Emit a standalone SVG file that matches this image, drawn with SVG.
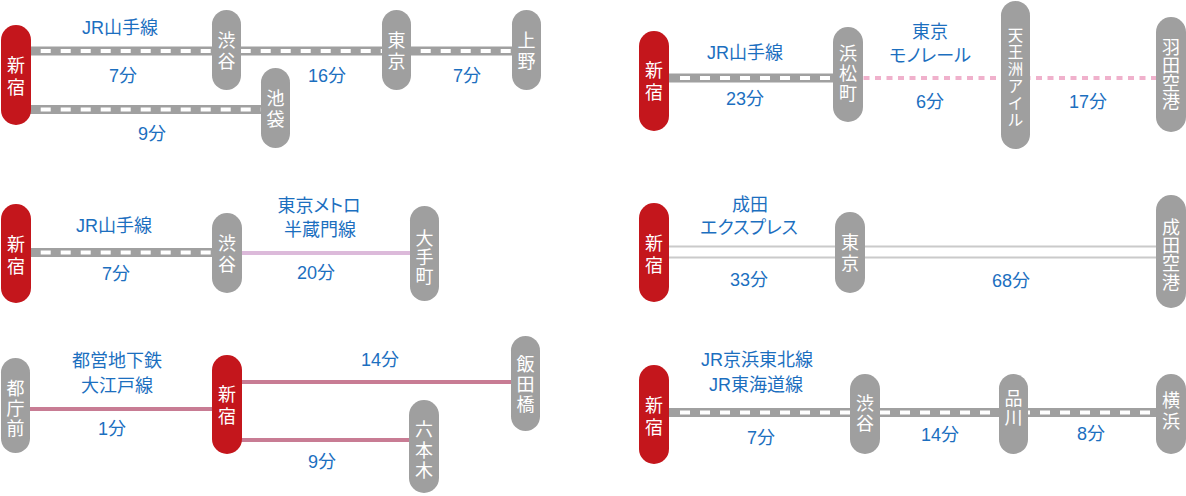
<svg xmlns="http://www.w3.org/2000/svg" width="1186" height="496" viewBox="0 0 1186 496">
<style>
.red{fill:#c4161c}
.gry{fill:#9f9f9f}
.st{font-family:"Liberation Sans","Noto Sans CJK JP",sans-serif;font-size:18px;fill:#ffffff;text-anchor:middle}
.st6{font-family:"Liberation Sans","Noto Sans CJK JP",sans-serif;font-size:15.5px;fill:#ffffff;text-anchor:middle}
.lb{font-family:"Liberation Sans","Noto Sans CJK JP",sans-serif;font-size:18px;fill:#1c6fbf;text-anchor:middle}
.kt{font-feature-settings:"palt"}
.track{stroke:#a0a0a0;stroke-width:9;fill:none}
.tdash{stroke:#ffffff;stroke-width:4;stroke-dasharray:10 10;fill:none}
.mono{stroke:#f0b1cc;stroke-width:4;stroke-dasharray:6 5.5;fill:none}
.hanzo{stroke:#dcbada;stroke-width:4;fill:none}
.oedo{stroke:#c87c94;stroke-width:4;fill:none}
.nex{stroke:#cacaca;stroke-width:2;fill:none}
</style>
<rect width="1186" height="496" fill="#ffffff"/>
<g id="connectors">
  <line class="track" x1="16" y1="51" x2="526" y2="51"/>
  <line class="tdash" x1="40.7" y1="51" x2="512" y2="51"/>
  <line class="track" x1="16" y1="109.5" x2="275" y2="109.5"/>
  <line class="tdash" x1="40.7" y1="109.5" x2="261" y2="109.5"/>
  <line class="track" x1="654" y1="78" x2="848" y2="78"/>
  <line class="tdash" x1="680" y1="78" x2="833" y2="78"/>
  <line class="mono" x1="863.5" y1="78" x2="1156" y2="78"/>
  <line class="track" x1="16" y1="252.5" x2="227" y2="252.5"/>
  <line class="tdash" x1="40.7" y1="252.5" x2="212" y2="252.5"/>
  <line class="hanzo" x1="242" y1="253" x2="410" y2="253"/>
  <line class="nex" x1="669" y1="246.5" x2="1156" y2="246.5"/>
  <line class="nex" x1="669" y1="257.5" x2="1156" y2="257.5"/>
  <line class="oedo" x1="30" y1="409" x2="212" y2="409"/>
  <line class="oedo" x1="241" y1="382" x2="512" y2="382"/>
  <line class="oedo" x1="241" y1="440" x2="410" y2="440"/>
  <line class="track" x1="654" y1="412.5" x2="1186" y2="412.5"/>
  <line class="tdash" x1="680" y1="412.5" x2="1156" y2="412.5"/>
</g>
<g id="labels">
  <text class="lb" x="120" y="34">JR山手線</text>
  <text class="lb" x="123" y="82">7分</text>
  <text class="lb" x="327" y="82">16分</text>
  <text class="lb" x="467" y="82">7分</text>
  <text class="lb" x="152" y="140">9分</text>

  <text class="lb" x="745" y="59">JR山手線</text>
  <text class="lb" x="745" y="105">23分</text>
  <text class="lb" x="930" y="38">東京</text>
  <text class="lb kt" x="930" y="62">モノレール</text>
  <text class="lb" x="930" y="108">6分</text>
  <text class="lb" x="1088" y="108">17分</text>

  <text class="lb" x="114" y="232">JR山手線</text>
  <text class="lb" x="116" y="280">7分</text>
  <text class="lb kt" x="319" y="212">東京メトロ</text>
  <text class="lb" x="320" y="236">半蔵門線</text>
  <text class="lb" x="316" y="279">20分</text>

  <text class="lb" x="750" y="211">成田</text>
  <text class="lb kt" x="749" y="234">エクスプレス</text>
  <text class="lb" x="749" y="286">33分</text>
  <text class="lb" x="1011" y="287">68分</text>

  <text class="lb" x="117" y="367">都営地下鉄</text>
  <text class="lb" x="117" y="392">大江戸線</text>
  <text class="lb" x="112" y="435">1分</text>
  <text class="lb" x="380" y="366">14分</text>
  <text class="lb" x="322" y="468">9分</text>

  <text class="lb" x="757" y="366">JR京浜東北線</text>
  <text class="lb" x="756" y="391">JR東海道線</text>
  <text class="lb" x="761" y="444">7分</text>
  <text class="lb" x="940" y="441">14分</text>
  <text class="lb" x="1091" y="440">8分</text>
</g>

<g id="a-shinjuku"><rect class="red" x="1" y="25" width="30" height="100" rx="15"/><text class="st" x="16"><tspan x="16" y="72">新</tspan><tspan x="16" y="94">宿</tspan></text></g>
<g id="a-shibuya"><rect class="gry" x="212" y="10" width="29" height="80" rx="14.5"/><text class="st" x="226.5"><tspan x="226.5" y="47">渋</tspan><tspan x="226.5" y="68">谷</tspan></text></g>
<g id="a-tokyo"><rect class="gry" x="382" y="10" width="29" height="80" rx="14.5"/><text class="st" x="396.5"><tspan x="396.5" y="47">東</tspan><tspan x="396.5" y="68">京</tspan></text></g>
<g id="a-ueno"><rect class="gry" x="512" y="10" width="29" height="80" rx="14.5"/><text class="st" x="526.5"><tspan x="526.5" y="47">上</tspan><tspan x="526.5" y="68">野</tspan></text></g>
<g id="a-ikebukuro"><rect class="gry" x="261" y="68" width="29" height="80" rx="14.5"/><text class="st" x="275.5"><tspan x="275.5" y="104.5">池</tspan><tspan x="275.5" y="125.5">袋</tspan></text></g>

<g id="b-shinjuku"><rect class="red" x="639" y="31" width="30" height="100" rx="15"/><text class="st" x="654"><tspan x="654" y="77">新</tspan><tspan x="654" y="99">宿</tspan></text></g>
<g id="b-hamamatsucho"><rect class="gry" x="833" y="27" width="30" height="95" rx="15"/><text class="st" x="848"><tspan x="848" y="60">浜</tspan><tspan x="848" y="80">松</tspan><tspan x="848" y="100">町</tspan></text></g>
<g id="b-tennozu"><rect class="gry" x="1001" y="1" width="29" height="148" rx="14.5"/><text class="st6" x="1015.5"><tspan x="1015.5" y="41">天</tspan><tspan x="1015.5" y="58">王</tspan><tspan x="1015.5" y="75">洲</tspan><tspan x="1015.5" y="92">ア</tspan><tspan x="1015.5" y="109">イ</tspan><tspan x="1015.5" y="126">ル</tspan></text></g>
<g id="b-haneda"><rect class="gry" x="1156" y="17" width="30" height="115" rx="15"/><text class="st" x="1171"><tspan x="1171" y="54">羽</tspan><tspan x="1171" y="72">田</tspan><tspan x="1171" y="90">空</tspan><tspan x="1171" y="108">港</tspan></text></g>

<g id="c-shinjuku"><rect class="red" x="1" y="204" width="30" height="99" rx="15"/><text class="st" x="16"><tspan x="16" y="251">新</tspan><tspan x="16" y="273">宿</tspan></text></g>
<g id="c-shibuya"><rect class="gry" x="212" y="213" width="30" height="80" rx="15"/><text class="st" x="227"><tspan x="227" y="249.5">渋</tspan><tspan x="227" y="270.5">谷</tspan></text></g>
<g id="c-otemachi"><rect class="gry" x="410" y="206" width="29" height="95" rx="14.5"/><text class="st" x="424.5"><tspan x="424.5" y="245">大</tspan><tspan x="424.5" y="264">手</tspan><tspan x="424.5" y="283">町</tspan></text></g>

<g id="d-shinjuku"><rect class="red" x="639" y="203" width="30" height="99" rx="15"/><text class="st" x="654"><tspan x="654" y="250">新</tspan><tspan x="654" y="272">宿</tspan></text></g>
<g id="d-tokyo"><rect class="gry" x="835" y="212" width="30" height="81" rx="15"/><text class="st" x="850"><tspan x="850" y="249">東</tspan><tspan x="850" y="270">京</tspan></text></g>
<g id="d-narita"><rect class="gry" x="1156" y="195" width="30" height="113" rx="15"/><text class="st" x="1171"><tspan x="1171" y="234">成</tspan><tspan x="1171" y="252">田</tspan><tspan x="1171" y="270">空</tspan><tspan x="1171" y="289">港</tspan></text></g>

<g id="e-tochomae"><rect class="gry" x="1" y="358" width="29" height="95" rx="14.5"/><text class="st" x="15.5"><tspan x="15.5" y="395">都</tspan><tspan x="15.5" y="415">庁</tspan><tspan x="15.5" y="435">前</tspan></text></g>
<g id="e-shinjuku"><rect class="red" x="212" y="355" width="30" height="99" rx="15"/><text class="st" x="227"><tspan x="227" y="400.5">新</tspan><tspan x="227" y="422.5">宿</tspan></text></g>
<g id="e-iidabashi"><rect class="gry" x="511" y="336" width="29" height="95" rx="14.5"/><text class="st" x="525.5"><tspan x="525.5" y="371">飯</tspan><tspan x="525.5" y="391">田</tspan><tspan x="525.5" y="411">橋</tspan></text></g>
<g id="e-roppongi"><rect class="gry" x="409" y="400" width="30" height="93" rx="15"/><text class="st" x="424"><tspan x="424" y="436">六</tspan><tspan x="424" y="456.5">本</tspan><tspan x="424" y="477">木</tspan></text></g>

<g id="f-shinjuku"><rect class="red" x="639" y="365" width="30" height="99" rx="15"/><text class="st" x="654"><tspan x="654" y="412">新</tspan><tspan x="654" y="434">宿</tspan></text></g>
<g id="f-shibuya"><rect class="gry" x="850" y="374" width="30" height="80" rx="15"/><text class="st" x="865"><tspan x="865" y="410">渋</tspan><tspan x="865" y="430">谷</tspan></text></g>
<g id="f-shinagawa"><rect class="gry" x="999" y="374" width="29" height="80" rx="14.5"/><text class="st" x="1013.5"><tspan x="1013.5" y="404.5">品</tspan><tspan x="1013.5" y="423.5">川</tspan></text></g>
<g id="f-yokohama"><rect class="gry" x="1156" y="374" width="30" height="80" rx="15"/><text class="st" x="1171"><tspan x="1171" y="407">横</tspan><tspan x="1171" y="428">浜</tspan></text></g>
</svg>
